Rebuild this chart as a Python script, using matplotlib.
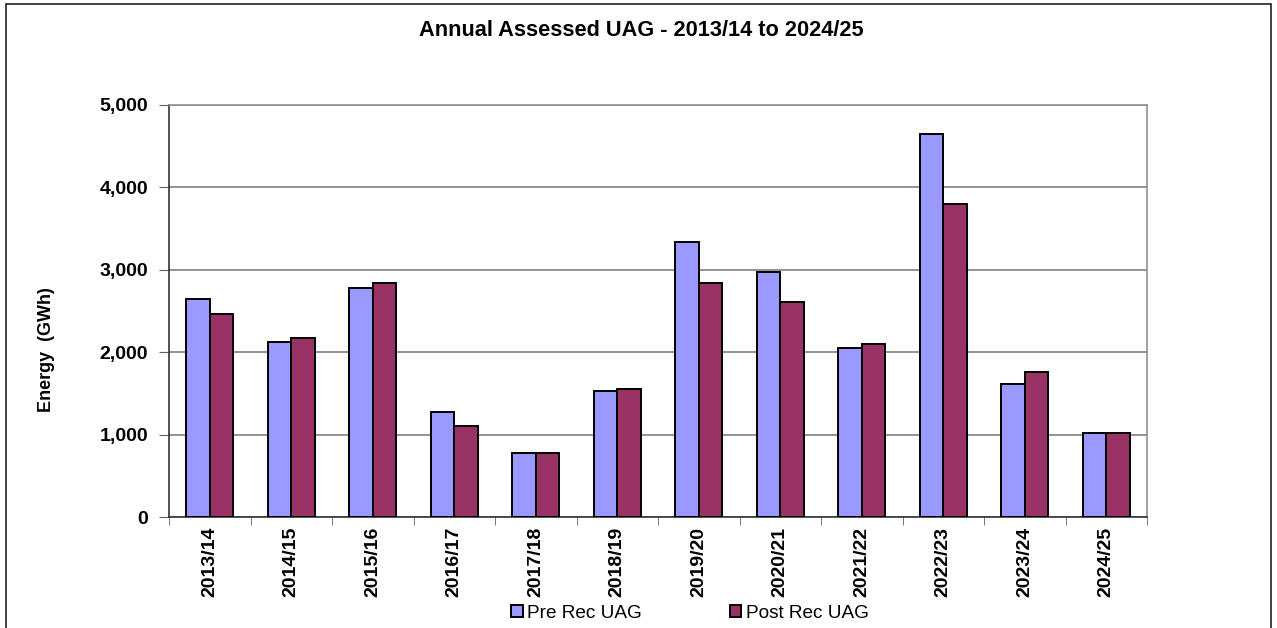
import matplotlib
matplotlib.use("Agg")
import matplotlib.pyplot as plt
import numpy as np
from matplotlib.patches import Rectangle
from matplotlib.ticker import FuncFormatter

# Assessed UAG by year (GWh)
years = ["2013/14", "2014/15", "2015/16", "2016/17", "2017/18", "2018/19",
         "2019/20", "2020/21", "2021/22", "2022/23", "2023/24", "2024/25"]
pre_rec = [2642, 2124, 2779, 1274, 781, 1525, 3334, 2970, 2051, 4653, 1619, 1024]
post_rec = [2468, 2172, 2836, 1104, 773, 1553, 2845, 2614, 2100, 3803, 1765, 1016]

plt.rcParams["font.family"] = ["Liberation Sans", "DejaVu Sans"]

fig = plt.figure(figsize=(12.77, 6.28), dpi=100)
ax = fig.add_axes([169 / 1277, 111 / 628, 978 / 1277, 412 / 628])

# outer chart frame
fig.patches.append(Rectangle((6 / 1277, -0.05), 1265 / 1277, 1.05 - 4 / 628,
                             transform=fig.transFigure, fill=False,
                             edgecolor="#222222", linewidth=1.2))

x = np.arange(len(years))
w = 0.286
ax.bar(x - w / 2, pre_rec, w, color="#9999FF", edgecolor="black", linewidth=1.4,
       label="Pre Rec UAG", zorder=3)
ax.bar(x + w / 2, post_rec, w, color="#993366", edgecolor="black", linewidth=1.4,
       label="Post Rec UAG", zorder=3)

ax.set_xlim(-0.5, len(years) - 0.5)
ax.set_ylim(0, 5000)
ax.set_yticks(range(0, 5001, 1000))
ax.yaxis.set_major_formatter(FuncFormatter(lambda v, p: f"{int(v):,}"))
ax.grid(axis="y", color="#808080", linewidth=1.2, zorder=0)

ax.set_xticks(x)
ax.set_xticklabels(years, rotation=90, fontsize=14, fontweight="bold")
ax.set_xticks(np.arange(-0.5, len(years)), minor=True)
ax.tick_params(axis="x", which="major", length=0, pad=7)
ax.tick_params(axis="x", which="minor", length=6, color="#606060", direction="out")
ax.tick_params(axis="y", length=7, color="#606060", labelsize=14, pad=8)
for t in ax.get_yticklabels():
    t.set_fontweight("bold")

for s in ["top", "right"]:
    ax.spines[s].set_color("#909090")
    ax.spines[s].set_linewidth(1.2)
ax.spines["left"].set_color("#333333")
ax.spines["bottom"].set_color("#333333")
ax.spines["left"].set_linewidth(1.2)
ax.spines["bottom"].set_linewidth(1.2)

fig.text(47 / 1277, 1 - 350 / 628, "Energy  (GWh)", rotation=90,
         ha="center", va="center", fontsize=13, fontweight="bold")
fig.text(641 / 1277, 1 - 31 / 628, "Annual Assessed UAG - 2013/14 to 2024/25",
         ha="center", va="center", fontsize=15.7, fontweight="bold")

fig.legend(loc="center", bbox_to_anchor=(690 / 1277, 1 - 613 / 628), ncol=2,
           frameon=False, fontsize=13.7, handlelength=0.6, handleheight=0.6,
           handletextpad=0.25, columnspacing=4.6)

fig.savefig("out.png", dpi=100)
